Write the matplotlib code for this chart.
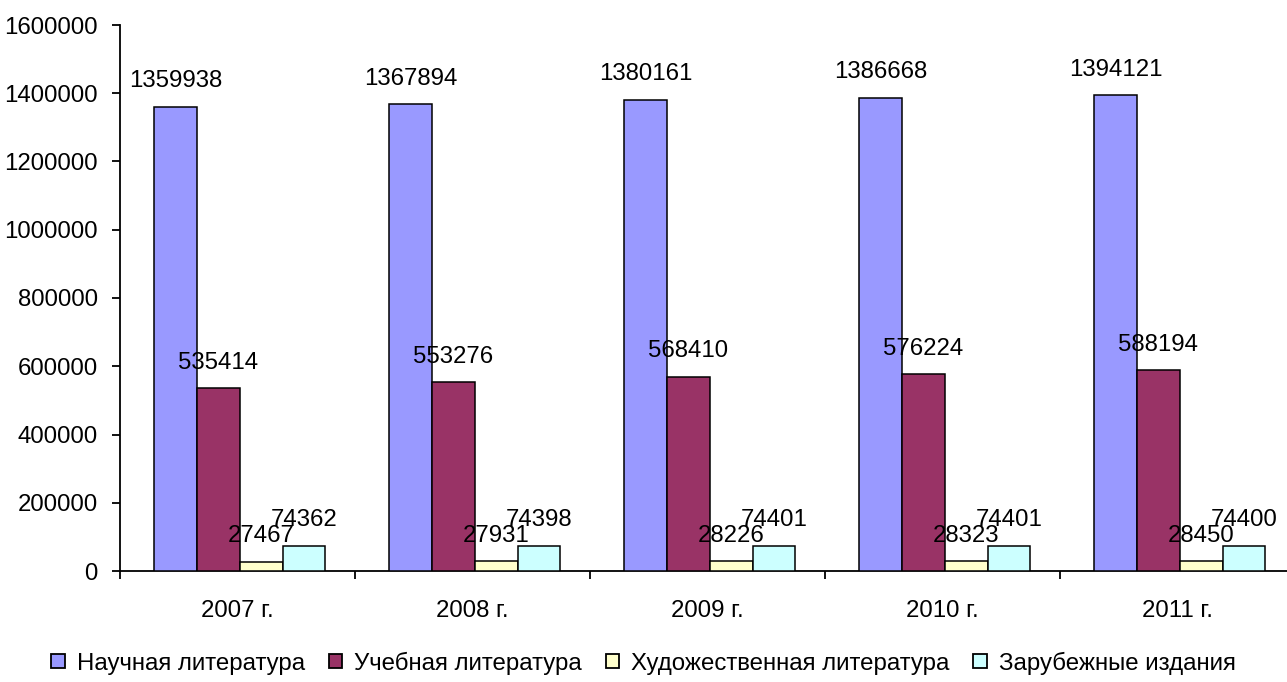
import numpy as np
import matplotlib
matplotlib.use('Agg')
import matplotlib.pyplot as plt
from matplotlib.patches import Patch

years = ['2007 г.', '2008 г.', '2009 г.', '2010 г.', '2011 г.']
series_names = ['Научная литература', 'Учебная литература',
                'Художественная литература', 'Зарубежные издания']
nauchnaya = [1359938, 1367894, 1380161, 1386668, 1394121]
uchebnaya = [535414, 553276, 568410, 576224, 588194]
hudozh = [27467, 27931, 28226, 28323, 28450]
zarub = [74362, 74398, 74401, 74401, 74400]
colors = ['#9999FF', '#993366', '#FFFFCC', '#CCFFFF']

plt.rcParams['font.family'] = ['Liberation Sans', 'DejaVu Sans']
plt.rcParams['font.size'] = 17.3

fig = plt.figure(figsize=(12.87, 6.82), dpi=100)
ax = fig.add_axes([120 / 1287, 1 - 571 / 682, 1175 / 1287, 546 / 682])

centers = np.arange(len(years)) + 0.5
width = 0.182
all_series = [nauchnaya, uchebnaya, hudozh, zarub]
for k, (vals, col) in enumerate(zip(all_series, colors)):
    xs = centers + 0.01 + (k - 1.5) * width
    ax.bar(xs, vals, width=width, color=col, edgecolor='black', linewidth=1.1,
           label=series_names[k], zorder=3)
    # data labels above each bar (they overlap on the small bars, as in the source)
    for x, v in zip(xs, vals):
        ax.annotate(str(v), (x, v), xytext=(0, 10.5), textcoords='offset points',
                    ha='center', va='bottom', zorder=5)

ax.set_xlim(0, len(years))
ax.set_ylim(0, 1600000)
ax.set_yticks(np.arange(0, 1600001, 200000))
ax.set_yticklabels([str(v) for v in range(0, 1600001, 200000)])
ax.set_xticks(np.arange(0, len(years) + 1))
ax.set_xticklabels([])
ax.set_xticks(centers, minor=True)
ax.set_xticklabels(years, minor=True)
ax.tick_params(axis='x', which='minor', length=0, pad=21)
ax.tick_params(axis='x', which='major', length=6, width=1.3, direction='out')
ax.tick_params(axis='y', length=6, width=1.3, direction='out', pad=10)

ax.spines['top'].set_visible(False)
ax.spines['right'].set_visible(False)
ax.spines['left'].set_linewidth(1.3)
ax.spines['bottom'].set_linewidth(1.3)

handles = [Patch(facecolor=c, edgecolor='black', linewidth=1.3) for c in colors]
fig.legend(handles, series_names, loc='center', bbox_to_anchor=(0.5, 1 - 663 / 682),
           ncol=4, frameon=False, handlelength=0.55, handleheight=0.55,
           handletextpad=0.5, columnspacing=1.0)

fig.savefig('out.png', dpi=100)
